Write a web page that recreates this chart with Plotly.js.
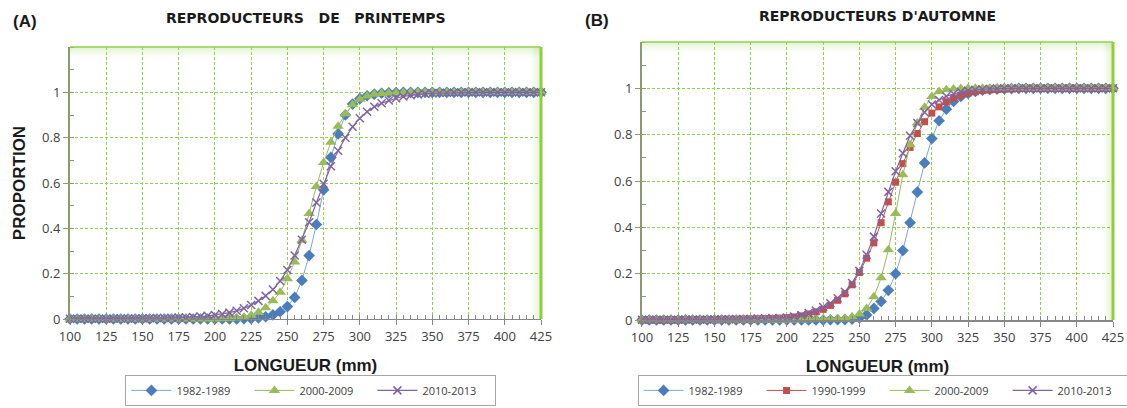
<!DOCTYPE html>
<html><head><meta charset="utf-8">
<script src="https://cdn.plot.ly/plotly-3.0.1.min.js"></script>
<style>html,body{margin:0;padding:0;background:#fff;}#chart{width:1127px;height:408px;}</style>
</head><body><div id="chart"></div>
<script>
// Length classes (mm)
const lengthMm = [100,105,110,115,120,125,130,135,140,145,
  150,155,160,165,170,175,180,185,190,195,
  200,205,210,215,220,225,230,235,240,245,
  250,255,260,265,270,275,280,285,290,295,
  300,305,310,315,320,325,330,335,340,345,
  350,355,360,365,370,375,380,385,390,395,
  400,405,410,415,420,425];

// Panel A : spring spawners
const springA_1982_1989 = [0,0,0,0,0,0,0,0,0,0,
  0,0,0,0,0,0,0,0,0,0,
  0,0,0,0,0.001,0.002,0.005,0.010,0.018,0.032,
  0.055,0.095,0.170,0.280,0.417,0.570,0.713,0.817,0.900,0.948,
  0.972,0.985,0.992,0.996,0.998,0.999,1,1,1,1,
  1,1,1,1,1,1,1,1,1,1,
  1,1,1,1,1,1];
const springA_2000_2009 = [0,0,0,0,0,0,0,0,0,0,
  0,0,0,0,0,0,0,0,0,0,
  0,0.001,0.002,0.004,0.008,0.016,0.030,0.050,0.080,0.118,
  0.178,0.252,0.347,0.465,0.585,0.690,0.780,0.850,0.905,0.945,
  0.970,0.984,0.991,0.995,0.997,0.998,0.999,1,1,1,
  1,1,1,1,1,1,1,1,1,1,
  1,1,1,1,1,1];
const springA_2010_2013 = [0.001,0.001,0.001,0.001,0.001,0.001,0.002,0.002,0.002,0.002,
  0.003,0.003,0.004,0.004,0.005,0.006,0.007,0.009,0.011,0.014,
  0.018,0.022,0.028,0.036,0.047,0.062,0.080,0.102,0.130,0.168,
  0.216,0.280,0.350,0.427,0.514,0.597,0.674,0.742,0.800,0.848,
  0.886,0.914,0.936,0.952,0.964,0.974,0.982,0.987,0.991,0.994,
  0.996,0.997,0.998,0.999,1,1,1,1,1,1,
  1,1,1,1,1,1];

// Panel B : autumn spawners
const autumnB_1982_1989 = [0,0,0,0,0,0,0,0,0,0,
  0,0,0,0,0,0,0,0,0,0,
  0,0,0,0,0,0,0.001,0.001,0.002,0.004,
  0.009,0.022,0.050,0.080,0.128,0.200,0.300,0.420,0.552,0.678,
  0.783,0.860,0.910,0.944,0.965,0.978,0.987,0.992,0.995,0.997,
  0.998,0.999,1,1,1,1,1,1,1,1,
  1,1,1,1,1,1];
const autumnB_1990_1999 = [0.001,0.001,0.001,0.001,0.001,0.001,0.002,0.002,0.002,0.002,
  0.002,0.003,0.003,0.003,0.004,0.004,0.005,0.006,0.007,0.008,
  0.010,0.013,0.018,0.026,0.035,0.046,0.063,0.085,0.113,0.152,
  0.205,0.267,0.333,0.420,0.510,0.595,0.675,0.745,0.805,0.856,
  0.893,0.920,0.942,0.958,0.970,0.979,0.985,0.990,0.993,0.995,
  0.997,0.998,0.999,1,1,1,1,1,1,1,
  1,1,1,1,1,1];
const autumnB_2000_2009 = [0,0,0,0,0,0,0,0,0,0,
  0,0,0,0,0,0,0,0,0,0,
  0,0,0.001,0.001,0.002,0.003,0.004,0.006,0.008,0.014,
  0.026,0.050,0.100,0.182,0.303,0.460,0.627,0.757,0.850,0.918,
  0.965,0.986,0.994,0.997,0.999,1,1,1,1,1,
  1,1,1,1,1,1,1,1,1,1,
  1,1,1,1,1,1];
const autumnB_2010_2013 = [0.001,0.001,0.001,0.001,0.001,0.001,0.002,0.002,0.002,0.002,
  0.003,0.003,0.003,0.004,0.004,0.005,0.006,0.007,0.008,0.009,
  0.011,0.015,0.021,0.030,0.041,0.056,0.072,0.094,0.122,0.160,
  0.212,0.282,0.360,0.460,0.553,0.642,0.720,0.795,0.850,0.897,
  0.930,0.950,0.966,0.977,0.985,0.990,0.994,0.996,0.998,0.999,
  1,1,1,1,1,1,1,1,1,1,
  1,1,1,1,1,1];

const seriesNames = ['1982-1989','1990-1999','2000-2009','2010-2013'];
const xTickVals = [100,125,150,175,200,225,250,275,300,325,350,375,400,425];
const yTickVals = [0,0.2,0.4,0.6,0.8,1];
const yTickText = ['0','0.2','0.4','0.6','0.8','1'];

const GREEN = '#92D050';
const TICKFONT = {family:'Open Sans, sans-serif', size:13, color:'#404040'};
const TITLEFONT = {family:'Liberation Sans, Arial, sans-serif', size:17, color:'#1a1a1a', weight:'bold'};

const styles = {
  '1982-1989': {line:{color:'#7EA6DA', width:1}, marker:{symbol:'diamond', size:9, color:'#4A7EBB'}},
  '1990-1999': {line:{color:'#C0504D', width:1}, marker:{symbol:'square', size:7, color:'#C0504D'}},
  '2000-2009': {line:{color:'#9BBB59', width:1}, marker:{symbol:'triangle-up', size:10, color:'#9BBB59'}},
  '2010-2013': {line:{color:'#8064A2', width:1.2}, marker:{symbol:'x-thin-open', size:8, color:'#8064A2', line:{color:'#8064A2', width:1.5}}}
};

function trace(name, y, xa, ya, leg){
  const st = styles[name];
  return {x:lengthMm, y:y, name:name, type:'scatter', mode:'lines+markers',
    xaxis:xa, yaxis:ya, legend:leg, line:st.line, marker:st.marker, cliponaxis:false};
}

const data = [
  trace(seriesNames[0], springA_1982_1989, 'x', 'y', 'legend'),
  trace(seriesNames[2], springA_2000_2009, 'x', 'y', 'legend'),
  trace(seriesNames[3], springA_2010_2013, 'x', 'y', 'legend'),
  trace(seriesNames[0], autumnB_1982_1989, 'x2', 'y2', 'legend2'),
  trace(seriesNames[1], autumnB_1990_1999, 'x2', 'y2', 'legend2'),
  trace(seriesNames[2], autumnB_2000_2009, 'x2', 'y2', 'legend2'),
  trace(seriesNames[3], autumnB_2010_2013, 'x2', 'y2', 'legend2')
];

function xAxis(domain, anchor){
  return {domain:domain, anchor:anchor, range:[100,425], tickmode:'array', tickvals:xTickVals,
    ticks:'outside', ticklen:5, tickcolor:'#868686', tickwidth:1,
    showline:true, linecolor:'#868686', linewidth:1.5,
    showgrid:true, gridcolor:GREEN, griddash:'3px,2px', gridwidth:1, zeroline:false,
    minor:{tickmode:'linear', tick0:100, dtick:5, ticks:'inside', ticklen:4, tickcolor:'#868686', showgrid:false},
    tickfont:TICKFONT, automargin:false,
    title:{text:'LONGUEUR (mm)', font:TITLEFONT, standoff:15}};
}
function yAxis(domain, anchor, withTitle){
  return {domain:domain, anchor:anchor, range:[0,1.2], tickmode:'array', tickvals:yTickVals, ticktext:yTickText,
    ticks:'outside', ticklen:5, tickcolor:'#8C9A70',
    showline:true, linecolor:'#8C9A70', linewidth:2,
    showgrid:true, gridcolor:GREEN, griddash:'3px,2px', gridwidth:1, zeroline:false,
    minor:{tickmode:'linear', tick0:0, dtick:0.1, ticks:'inside', ticklen:4, tickcolor:'#8C9A70', showgrid:false},
    tickfont:TICKFONT, automargin:false,
    title: withTitle ? {text:'PROPORTION', font:TITLEFONT, standoff:12} : {text:''}};
}

// glow & borders
function frame(xr, yr, wpx, hpx){
  const s = [];
  const n = 10;
  for (let i=0;i<n;i++){
    const op = 0.25*(1-i/n);
    s.push({type:'rect', xref:xr+' domain', yref:yr+' domain', x0:0, x1:1, y0:1-(i+1)/hpx, y1:1-i/hpx,
      fillcolor:GREEN, opacity:op, line:{width:0}, layer:'below'});
    s.push({type:'rect', xref:xr+' domain', yref:yr+' domain', x0:1-(i+1)/wpx, x1:1-i/wpx, y0:0, y1:1,
      fillcolor:GREEN, opacity:op, line:{width:0}, layer:'below'});
  }
  s.push({type:'line', xref:xr+' domain', yref:yr+' domain', x0:0, x1:1, y0:1, y1:1, line:{color:GREEN, width:1.5}});
  s.push({type:'line', xref:xr+' domain', yref:yr+' domain', x0:1, x1:1, y0:0, y1:1, line:{color:'#8CD03C', width:3}});
  return s;
}

const legendBase = {orientation:'h', xanchor:'center', yanchor:'bottom', bgcolor:'#ffffff',
  bordercolor:'#A6A6A6', borderwidth:1, font:{family:'Open Sans, sans-serif', size:11, color:'#404040'},
  itemwidth:40, entrywidth:68, itemclick:false};

const layout = {
  width:1127, height:408,
  margin:{l:70, r:14, t:42, b:88, autoexpand:false},
  paper_bgcolor:'#ffffff', plot_bgcolor:'#ffffff',
  showlegend:true,
  xaxis:xAxis([0, 0.4516], 'y'),
  yaxis:yAxis([0.0036, 0.982], 'x', true),
  xaxis2:xAxis([0.5484, 1], 'y2'),
  yaxis2:yAxis([0, 1], 'x2', false),
  legend:Object.assign({}, legendBase, {x:0.231, y:-0.309}),
  legend2:Object.assign({}, legendBase, {x:0.781, y:-0.309}),
  shapes:[].concat(frame('x','y',471,272), frame('x2','y2',471,278)),
  annotations:[
    {text:'(A)', xref:'paper', yref:'paper', x:-0.043, y:1.072, xanchor:'center', yanchor:'middle', showarrow:false,
     font:{family:'Liberation Sans, Arial, sans-serif', size:17, weight:'bold', color:'#1a1a1a'}},
    {text:'(B)', xref:'paper', yref:'paper', x:0.505, y:1.079, xanchor:'center', yanchor:'middle', showarrow:false,
     font:{family:'Liberation Sans, Arial, sans-serif', size:17, weight:'bold', color:'#1a1a1a'}},
    {text:'REPRODUCTEURS\u00A0\u00A0\u00A0DE\u00A0\u00A0\u00A0PRINTEMPS', xref:'paper', yref:'paper', x:0.2258, y:1.086, xanchor:'center', yanchor:'middle', showarrow:false,
     font:{family:'DejaVu Sans, sans-serif', size:14, weight:'bold', color:'#1a1a1a'}},
    {text:"REPRODUCTEURS D'AUTOMNE", xref:'paper', yref:'paper', x:0.774, y:1.094, xanchor:'center', yanchor:'middle', showarrow:false,
     font:{family:'DejaVu Sans, sans-serif', size:14, weight:'bold', color:'#1a1a1a'}}
  ]
};

Plotly.newPlot('chart', data, layout, {staticPlot:true, displayModeBar:false});
</script>
</body></html>
